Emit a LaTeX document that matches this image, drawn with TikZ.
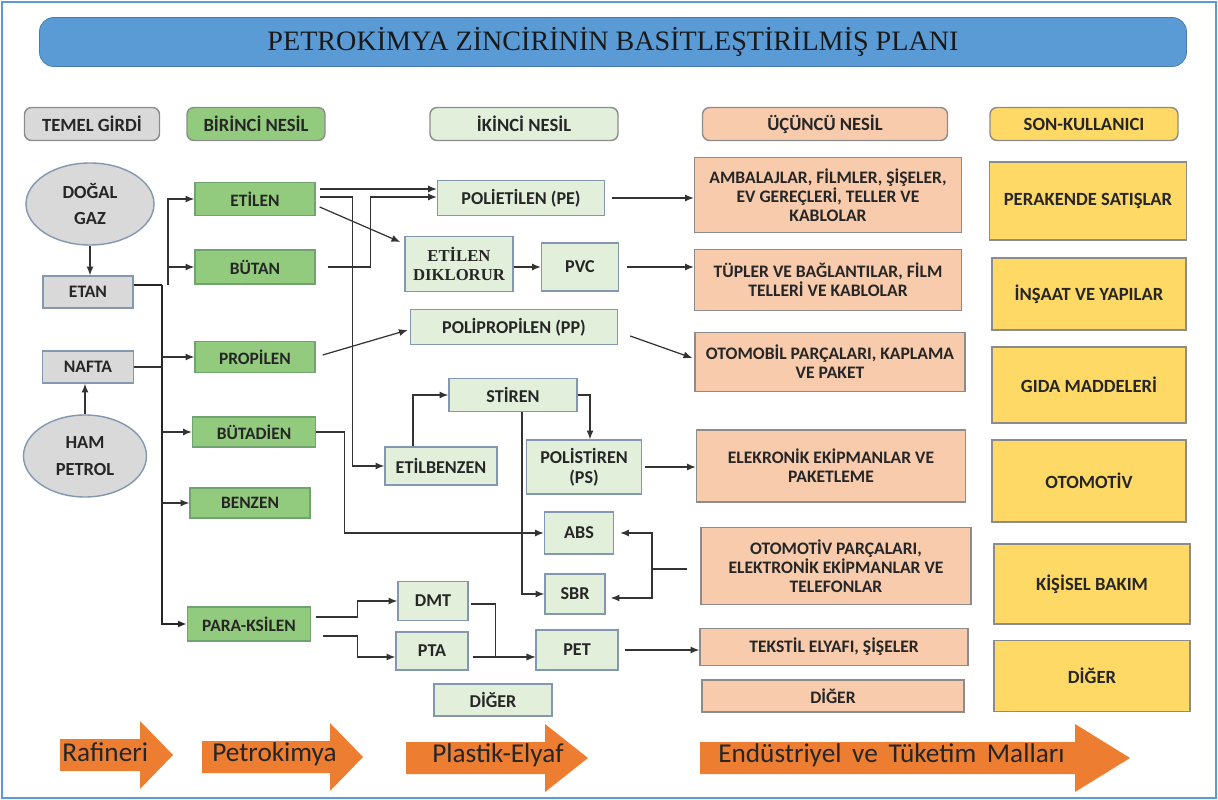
\documentclass[tikz,border=0pt]{standalone}
\usepackage{fontspec}
\setmainfont{Carlito}
\newfontfamily\titlefont{Liberation Serif}
\usepackage{xcolor}
\usetikzlibrary{positioning, calc, shapes.geometric, arrows.meta}

\definecolor{framebl}{HTML}{5B9BD5}
\definecolor{inputgr}{HTML}{D9D9D9}
\definecolor{firstgn}{HTML}{93CB7E}
\definecolor{secondgn}{HTML}{E2EFDA}
\definecolor{thirdpc}{HTML}{F8CBAD}
\definecolor{enduser}{HTML}{FFD966}
\definecolor{stageor}{HTML}{ED7D31}
\definecolor{edgebl}{HTML}{8497B0}
\definecolor{edgegr}{HTML}{8C8C8C}

\tikzset{
  wh/.style 2 args={minimum width=#1*0.02cm, minimum height=#2*0.02cm},
  box/.style={draw=edgebl, line width=0.8pt, inner sep=1pt, align=center,
    text=black!85, font=\bfseries\fontsize{10.3}{11.5}\selectfont},
  inbox/.style={box, fill=inputgr},
  firstbox/.style={box, fill=firstgn, draw=edgegr!80!green, font=\bfseries\fontsize{9.9}{11}\selectfont},
  secondbox/.style={box, fill=secondgn},
  thirdbox/.style={box, fill=thirdpc, draw=edgegr, font=\bfseries\fontsize{10}{10.8}\selectfont},
  userbox/.style={box, fill=enduser, draw=edgegr, font=\bfseries\fontsize{10.6}{12}\selectfont},
  hdr/.style={box, rounded corners=4pt, draw=edgegr, font=\bfseries\fontsize{10.6}{12}\selectfont},
  line/.style={draw=black!80, line width=0.7pt},
  conn/.style={line, -{Latex[length=5pt,width=4pt]}},
  trunk/.style={draw=black!85, line width=1.1pt},
  stagetext/.style={inner sep=0pt, text=black!85, font=\fontsize{15.5}{18}\selectfont}
}

\begin{document}
\begin{tikzpicture}[x=0.02cm, y=-0.02cm]
  \useasboundingbox (0,0) rectangle (1218,800);
  \draw[framebl, line width=0.04cm] (2,2) rectangle (1216,798);

  \node[fill=framebl, draw=framebl!80!black, rounded corners=8pt, wh={1147}{49},
    font=\titlefont\fontsize{16}{18}\selectfont, text=black!90] (title) at (613,42)
    {PETROKİMYA ZİNCİRİNİN BASİTLEŞTİRİLMİŞ PLANI};

  \node[hdr, fill=inputgr, wh={135}{33}] (h1) at (92,124) {TEMEL GİRDİ};
  \node[hdr, fill=firstgn, wh={138}{33}] (h2) at (256,124) {BİRİNCİ NESİL};
  \node[hdr, fill=secondgn, wh={188}{33}] (h3) at (524,124) {İKİNCİ NESİL};
  \node[hdr, fill=thirdpc, wh={245}{33}] (h4) at (825,124) {ÜÇÜNCÜ NESİL};
  \node[hdr, fill=enduser, wh={188}{33}] (h5) at (1084,124) {SON-KULLANICI};

  \node[ellipse, inbox, wh={128}{82}, font=\bfseries\fontsize{10.5}{15}\selectfont] (gaz) at (90,204) {DOĞAL\\GAZ};
  \node[inbox, wh={90}{32}, font=\bfseries\fontsize{10}{12}\selectfont] (etan) at (88,292) {ETAN};
  \node[inbox, wh={91}{32}, font=\bfseries\fontsize{10}{12}\selectfont] (nafta) at (88,367) {NAFTA};
  \node[ellipse, inbox, wh={123}{82}, font=\bfseries\fontsize{10.5}{15}\selectfont] (ham) at (85,456) {HAM\\PETROL};

  \node[firstbox, wh={120}{33}] (etilen) at (255,199) {ETİLEN};
  \node[firstbox, wh={120}{34}] (butan) at (255,267) {BÜTAN};
  \node[firstbox, wh={120}{31}] (propilen) at (255,357) {PROPİLEN};
  \node[firstbox, wh={123}{30}] (butadien) at (254,432) {BÜTADİEN};
  \node[firstbox, wh={120}{30}] (benzen) at (250,503) {BENZEN};
  \node[firstbox, wh={123}{34}] (paraks) at (249,624) {PARA-KSİLEN};

  \node[secondbox, wh={167}{35}] (pe) at (521,198) {POLİETİLEN (PE)};
  \node[secondbox, wh={108}{55}, font=\titlefont\bfseries\fontsize{9.5}{11}\selectfont] (edc) at (459,264) {ETİLEN\\DIKLORUR};
  \node[secondbox, wh={77}{48}] (pvc) at (580,267) {PVC};
  \node[secondbox, wh={207}{35}] (pp) at (514,327) {POLİPROPİLEN (PP)};
  \node[secondbox, wh={128}{33}] (stiren) at (513,395) {STİREN};
  \node[secondbox, wh={112}{38}] (ebz) at (441,466) {ETİLBENZEN};
  \node[secondbox, wh={115}{54}] (ps) at (584,467) {POLİSTİREN\\(PS)};
  \node[secondbox, wh={69}{42}] (abs) at (579,533) {ABS};
  \node[secondbox, wh={60}{40}] (sbr) at (575,594) {SBR};
  \node[secondbox, wh={70}{39}] (dmt) at (433,601) {DMT};
  \node[secondbox, wh={72}{38}] (pta) at (432,651) {PTA};
  \node[secondbox, wh={82}{40}] (pet) at (577,650) {PET};
  \node[secondbox, wh={118}{32}] (other2) at (493,700) {DİĞER};

  \node[thirdbox, wh={267}{75}] (amb) at (828,195) {AMBALAJLAR, FİLMLER, ŞİŞELER,\\EV GEREÇLERİ, TELLER VE\\KABLOLAR};
  \node[thirdbox, wh={267}{61}] (tup) at (828,280) {TÜPLER VE BAĞLANTILAR, FİLM\\TELLERİ VE KABLOLAR};
  \node[thirdbox, wh={270}{59}] (oto) at (830,362) {OTOMOBİL PARÇALARI, KAPLAMA\\VE PAKET};
  \node[thirdbox, wh={269}{72}] (elk) at (831,466) {ELEKRONİK EKİPMANLAR VE\\PAKETLEME};
  \node[thirdbox, wh={270}{77}] (otop) at (836,566) {OTOMOTİV PARÇALARI,\\ELEKTRONİK EKİPMANLAR VE\\TELEFONLAR};
  \node[thirdbox, wh={268}{37}] (tek) at (834,647) {TEKSTİL ELYAFI, ŞİŞELER};
  \node[thirdbox, wh={262}{32}] (other3) at (833,696) {DİĞER};

  \node[userbox, wh={197}{78}] (perakende) at (1088,201) {PERAKENDE SATIŞLAR};
  \node[userbox, wh={194}{72}] (insaat) at (1089,294) {İNŞAAT VE YAPILAR};
  \node[userbox, wh={194}{76}] (gida) at (1089,385) {GIDA MADDELERİ};
  \node[userbox, wh={194}{82}] (otomotiv) at (1089,481) {OTOMOTİV};
  \node[userbox, wh={196}{80}] (bakim) at (1092,584) {KİŞİSEL BAKIM};
  \node[userbox, wh={196}{71}] (other4) at (1092,676) {DİĞER};

  \draw[conn] (gaz.south) -- (gaz.south |- etan.north);
  \draw[conn] (ham.north) -- (ham.north |- nafta.south);

  \coordinate (jtop) at (162,285);
  \coordinate (jup) at (168,285);
  \draw[trunk] (etan.east |- jtop) -- (jtop);
  \draw[trunk, -{Latex[length=5pt,width=4pt]}] (jtop) |- (paraks.west);
  \draw[line] (nafta.east) -- (nafta.east -| jtop);
  \draw[conn] (jtop |- propilen) -- (propilen.west);
  \draw[conn] (jtop |- butadien) -- (butadien.west);
  \draw[conn] (jtop |- benzen) -- (benzen.west);
  \draw[conn] (jup) |- (etilen.west);
  \draw[conn] (jup |- butan) -- (butan.west);

  \draw[conn] ($(etilen.east)+(4,-10)$) -- ($(pe.west)+(0,-9)$);
  \draw[conn] ($(etilen.east)+(4,-2)$) -| ($(ebz.west)+(-32,0)$) -- (ebz.west);
  \draw[conn] ($(etilen.east)+(4,8)$) -- ($(edc.west)+(-4,-22)$);
  \draw[conn] ($(butan.east)+(12,0)$) -| ($(pe.west)+(-66,-1)$) -- ($(pe.west)+(0,-1)$);
  \draw[conn] (edc.east |- pvc) -- (pvc.west);
  \draw[conn] ($(pvc.east)+(8,0)$) -- (tup.west |- pvc);
  \draw[conn] ($(pe.east)+(7,0)$) -- (amb.west |- pe);
  \draw[conn] ($(propilen.east)+(7,-2)$) -- ($(pp.west)+(-2,3)$);
  \draw[conn] ($(pp.east)+(12,9)$) -- ($(oto.west)+(-2,-4)$);

  \draw[conn] ($(ebz.north)+(-28,0)$) |- (stiren.west);
  \draw[conn] (stiren.east) -| ($(ps.north)+(6,0)$);
  \draw[conn] ($(stiren.south)+(9,0)$) |- (sbr.west);
  \draw[conn] (butadien.east) -- ++(28,0) |- (abs.west);
  \draw[conn] ($(ps.east)+(3,0)$) -- (elk.west |- ps);

  \coordinate (split) at (652,569);
  \draw[line] ($(otop.west)+(-13,3)$) -- (split);
  \draw[conn] (split) |- ($(abs.east)+(6,0)$);
  \draw[conn] (split) |- ($(sbr.east)+(5,4)$);

  \draw[conn] ($(paraks.east)+(5,-7)$) -- ++(41,0) |- (dmt.west);
  \draw[conn] ($(paraks.east)+(12,12)$) -- ++(34,0) |- ($(pta.west)+(0,6)$);
  \draw[conn] ($(dmt.east)+(2,3)$) -- ++(25,0) |- ($(pet.west)+(0,7)$);
  \draw[conn] ($(pta.east)+(4,6)$) -- ($(pet.west)+(0,7)$);
  \draw[conn] ($(pet.east)+(6,0)$) -- (tek.west |- pet);

  \foreach \xa/\xb/\xc/\yc/\xt/\txt [count=\i] in
    {60/140/173/755/62/Rafineri, 202/330/363/757/212/Petrokimya,
     406/545/588/758/432/Plastik-Elyaf, 700/1075/1130/758/718/{Endüstriyel\, ve\, Tüketim\, Malları}}
  {
    \fill[stageor] (\xa,\yc-16) -- (\xb,\yc-16) -- (\xb,\yc-34) -- (\xc,\yc)
      -- (\xb,\yc+34) -- (\xb,\yc+16) -- (\xa,\yc+16) -- cycle;
    \node[stagetext, anchor=west] (stage\i) at (\xt,\yc-3) {\txt};
  }
\end{tikzpicture}
\end{document}
